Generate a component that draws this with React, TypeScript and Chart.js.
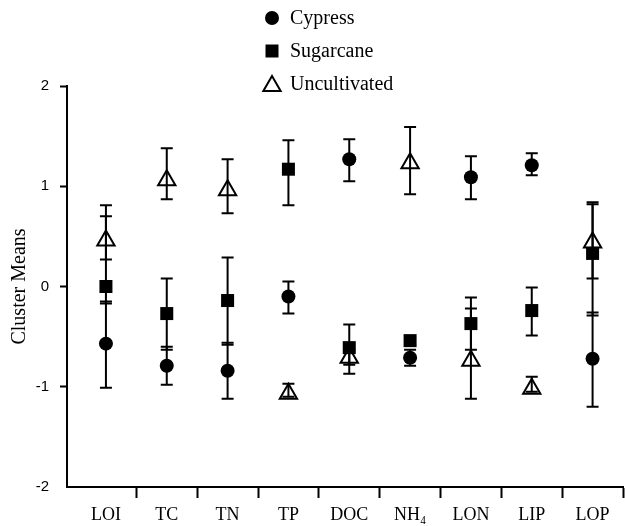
import React, { useEffect, useRef } from "react";
import { Chart, registerables } from "chart.js";

Chart.register(...registerables);

const categories = ["LOI", "TC", "TN", "TP", "DOC", "NH₄", "LON", "LIP", "LOP"];

const seriesNames = ["Cypress", "Sugarcane", "Uncultivated"];

const cypressMean = [-0.57, -0.79, -0.84, -0.1, 1.27, -0.71, 1.09, 1.21, -0.72];
const cypressLow = [-1.01, -0.98, -1.12, -0.27, 1.05, -0.79, 0.87, 1.11, -1.2];
const cypressHigh = [-0.15, -0.6, -0.56, 0.05, 1.47, -0.63, 1.3, 1.33, -0.26];

const sugarcaneMean = [0.0, -0.27, -0.14, 1.17, -0.61, -0.54, -0.37, -0.24, 0.33];
const sugarcaneLow = [-0.17, -0.63, -0.58, 0.81, -0.78, -0.58, -0.63, -0.49, -0.29];
const sugarcaneHigh = [0.7, 0.08, 0.29, 1.46, -0.38, -0.5, -0.11, -0.01, 0.82];

const uncultMean = [0.46, 1.06, 0.96, -1.07, -0.71, 1.23, -0.74, -1.02, 0.44];
const uncultLow = [0.27, 0.87, 0.73, -1.1, -0.87, 0.92, -1.12, -1.05, 0.08];
const uncultHigh = [0.81, 1.38, 1.27, -0.97, -0.63, 1.59, -0.22, -0.9, 0.84];

const yTicks = [-2, -1, 0, 1, 2];

const SERIF = "'Liberation Serif', 'Times New Roman', serif";
const SANS = "'Liberation Sans', Arial, sans-serif";

function drawMarker(ctx: CanvasRenderingContext2D, style: string, x: number, y: number) {
  ctx.save();
  ctx.fillStyle = "#000";
  ctx.strokeStyle = "#000";
  ctx.lineWidth = 2;
  ctx.beginPath();
  if (style === "circle") {
    ctx.arc(x, y, 7, 0, Math.PI * 2);
    ctx.fill();
  } else if (style === "rect") {
    ctx.rect(x - 6.5, y - 6.5, 13, 13);
    ctx.fill();
  } else {
    const r = 10;
    ctx.moveTo(x, y - r);
    ctx.lineTo(x + Math.sin((2 * Math.PI) / 3) * r, y + r / 2);
    ctx.lineTo(x - Math.sin((2 * Math.PI) / 3) * r, y + r / 2);
    ctx.closePath();
    ctx.stroke();
  }
  ctx.restore();
}

const stretchPlugin = {
  id: "stretchX",
  afterLayout(chart: any) {
    const target = chart.width - 2;
    const xs = chart.scales.x;
    const diff = target - chart.chartArea.right;
    if (Math.abs(diff) < 0.5) return;
    chart.chartArea.right = target;
    chart.chartArea.width += diff;
    xs.right = target;
    xs.width += diff;
    xs.configure();
  },
};

const errorBarPlugin = {
  id: "errorBars",
  beforeDatasetsDraw(chart: any) {
    const ctx = chart.ctx;
    const xs = chart.scales.x;
    const ys = chart.scales.y;
    ctx.save();
    ctx.strokeStyle = "#000";
    ctx.lineWidth = 2;
    chart.data.datasets.forEach((ds: any) => {
      ds.data.forEach((pt: any) => {
        const x = xs.getPixelForValue(pt.x);
        const yl = ys.getPixelForValue(pt.low);
        const yh = ys.getPixelForValue(pt.high);
        ctx.beginPath();
        ctx.moveTo(x, yl);
        ctx.lineTo(x, yh);
        ctx.moveTo(x - 6, yl);
        ctx.lineTo(x + 6, yl);
        ctx.moveTo(x - 6, yh);
        ctx.lineTo(x + 6, yh);
        ctx.stroke();
      });
    });
    ctx.restore();
  },
};

const legendPlugin = {
  id: "customLegend",
  afterDraw(chart: any) {
    const ctx = chart.ctx;
    const x0 = 272;
    const rows = [18, 51, 84];
    chart.data.datasets.forEach((ds: any, i: number) => {
      const y = rows[i];
      drawMarker(ctx, ds.pointStyle, x0, ds.pointStyle === "triangle" ? y + 2 : y);
      ctx.save();
      ctx.fillStyle = "#000";
      ctx.font = `20px ${SERIF}`;
      ctx.textBaseline = "middle";
      ctx.textAlign = "left";
      ctx.fillText(ds.label, x0 + 18, y + 1);
      ctx.restore();
    });
  },
};

function buildSeries(mean: number[], low: number[], high: number[]) {
  return mean.map((m, i) => ({ x: i, y: m, low: low[i], high: high[i] }));
}

export default function App() {
  const ref = useRef<HTMLCanvasElement | null>(null);

  useEffect(() => {
    document.body.style.margin = "0";
    const canvas = ref.current;
    if (!canvas) return;
    const chart = new Chart(canvas, {
      type: "scatter",
      data: {
        datasets: [
          {
            label: seriesNames[0],
            data: buildSeries(cypressMean, cypressLow, cypressHigh),
            pointStyle: "circle",
            pointRadius: 7,
            backgroundColor: "#000",
            borderColor: "#000",
            borderWidth: 0,
          },
          {
            label: seriesNames[1],
            data: buildSeries(sugarcaneMean, sugarcaneLow, sugarcaneHigh),
            pointStyle: "rect",
            pointRadius: 9.2,
            backgroundColor: "#000",
            borderColor: "#000",
            borderWidth: 0,
          },
          {
            label: seriesNames[2],
            data: buildSeries(uncultMean, uncultLow, uncultHigh),
            pointStyle: "triangle",
            pointRadius: 10,
            backgroundColor: "rgba(0,0,0,0)",
            borderColor: "#000",
            borderWidth: 2,
          },
        ] as any,
      },
      options: {
        animation: false,
        responsive: false,
        devicePixelRatio: 1,
        layout: { padding: { top: 86, right: 2, bottom: 0, left: 0 } },
        plugins: {
          legend: { display: false },
          tooltip: { enabled: false },
        },
        scales: {
          x: {
            type: "linear",
            min: -0.64,
            max: 8.5,
            afterBuildTicks: (scale: any) => {
              const t: any[] = [];
              for (let i = 0; i < categories.length; i++) {
                t.push({ value: i });
                t.push({ value: i + 0.5 });
              }
              scale.ticks = t;
            },
            afterFit: (scale: any) => {
              scale.height = 39;
            },
            grid: {
              display: true,
              drawOnChartArea: false,
              drawTicks: true,
              tickLength: 11,
              tickWidth: 2,
              tickColor: (c: any) =>
                c.tick && Number.isInteger(c.tick.value) ? "rgba(0,0,0,0)" : "#000",
            },
            border: { display: true, color: "#000", width: 2 },
            ticks: {
              autoSkip: false,
              maxRotation: 0,
              padding: 6,
              color: "#000",
              font: { family: SERIF, size: 18 },
              callback: (v: any) =>
                Number.isInteger(v) && categories[v] !== undefined ? categories[v] : "",
            },
          },
          y: {
            type: "linear",
            min: -2,
            max: 2,
            afterBuildTicks: (scale: any) => {
              scale.ticks = yTicks.map((v) => ({ value: v }));
            },
            afterFit: (scale: any) => {
              scale.width = 67;
            },
            grid: {
              display: true,
              drawOnChartArea: false,
              drawTicks: true,
              tickLength: 7,
              tickWidth: 2,
              tickColor: (c: any) => (c.tick && c.tick.value === -2 ? "rgba(0,0,0,0)" : "#000"),
            },
            border: { display: true, color: "#000", width: 2 },
            ticks: {
              padding: 11,
              color: "#000",
              font: { family: SANS, size: 15 },
              callback: (v: any) => String(v),
            },
            title: {
              display: true,
              text: "Cluster Means",
              color: "#000",
              font: { family: SERIF, size: 20 },
              padding: { top: 8, bottom: 0 },
            },
          },
        },
      } as any,
      plugins: [stretchPlugin, errorBarPlugin, legendPlugin],
    });
    return () => chart.destroy();
  }, []);

  return (
    <div style={{ width: 625, height: 526 }}>
      <canvas ref={ref} width={625} height={526} style={{ display: "block", width: 625, height: 526 }} />
    </div>
  );
}
